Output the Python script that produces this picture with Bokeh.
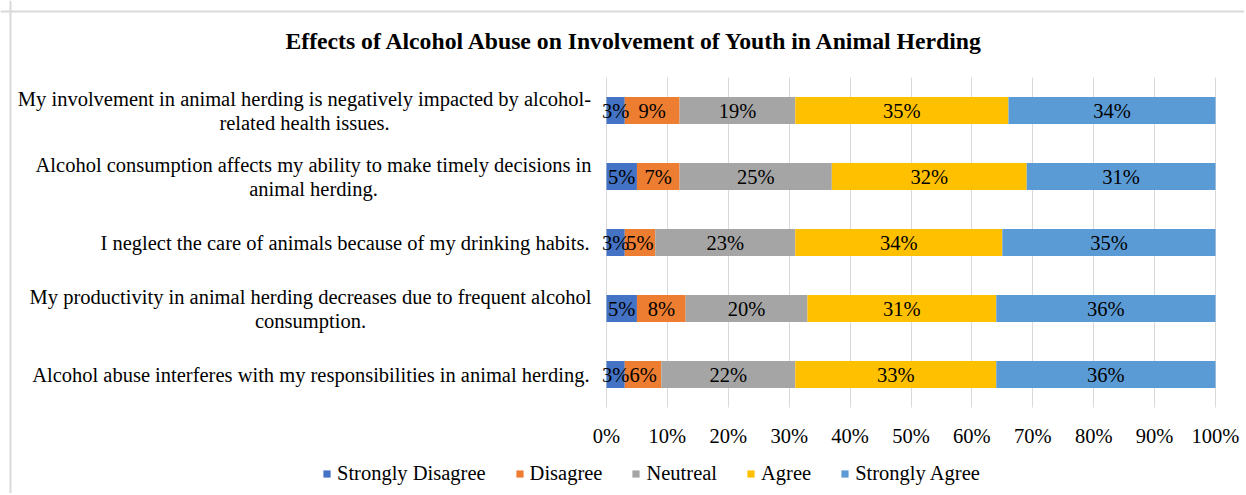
from bokeh.plotting import figure
from bokeh.models import (Range1d, FixedTicker, Label, Legend, LegendItem,
                          ColumnDataSource, Span)
from bokeh.core.properties import value
from bokeh.embed import file_html
from bokeh.resources import INLINE

# ---------------- data ----------------
title_text = "Effects of Alcohol Abuse on Involvement of Youth in Animal Herding"

categories = [
    "My involvement in animal herding is negatively impacted by alcohol-related health issues.",
    "Alcohol consumption affects my ability to make timely decisions in animal herding.",
    "I neglect the care of animals because of my drinking habits.",
    "My productivity in animal herding decreases due to frequent alcohol consumption.",
    "Alcohol abuse interferes with my responsibilities in animal herding.",
]
# how each category label is wrapped on the chart
category_lines = [
    ["My involvement in animal herding is negatively impacted by alcohol-", "related health issues."],
    ["Alcohol consumption affects my ability to make timely decisions in", "animal herding."],
    ["I neglect the care of animals because of my drinking habits."],
    ["My productivity in animal herding decreases due to frequent alcohol", "consumption."],
    ["Alcohol abuse interferes with my responsibilities in animal herding."],
]

series_names = ["Strongly Disagree", "Disagree", "Neutreal", "Agree", "Strongly Agree"]
strongly_disagree = [3, 5, 3, 5, 3]
disagree = [9, 7, 5, 8, 6]
neutral = [19, 25, 23, 20, 22]
agree = [35, 32, 34, 31, 33]
strongly_agree = [34, 31, 35, 36, 36]

tick_values = [0, 10, 20, 30, 40, 50, 60, 70, 80, 90, 100]
tick_labels = ["0%", "10%", "20%", "30%", "40%", "50%", "60%", "70%", "80%", "90%", "100%"]

colors = ["#4472C4", "#ED7D31", "#A5A5A5", "#FFC000", "#5B9BD5"]
FONT = "Liberation Serif"
FS = "20.5px"

# ---------------- layout (page pixels) ----------------
W, H = 1244, 493
PAGE0 = 0                       # canvas origin on the page
X0_PX, X100_PX = 606, 1215      # where 0% and 100% fall
TOP_PX, BOT_PX = 77, 407        # top / bottom of the bar area
n = len(categories)
ppx = (X100_PX - X0_PX) / 100.0
ppy = (BOT_PX - TOP_PX) / float(n)


def xdat(px):
    return (px - X0_PX) / ppx


def ydat(py):
    return (n - 0.5) - (py - TOP_PX) / ppy


x_lo, x_hi = xdat(PAGE0), xdat(PAGE0 + W)
y_lo, y_hi = ydat(PAGE0 + H), ydat(PAGE0)

# ---------------- build ----------------
ypos = [n - 1 - i for i in range(n)]  # first category at top
series_values = [strongly_disagree, disagree, neutral, agree, strongly_agree]
keys = ["s%d" % i for i in range(len(series_names))]

data = {"y": ypos}
for k, vals in zip(keys, series_values):
    data[k] = vals
source = ColumnDataSource(data)

p = figure(width=W, height=H, output_backend="svg", toolbar_location=None,
           x_range=Range1d(x_lo, x_hi), y_range=Range1d(y_lo, y_hi),
           min_border_left=0, min_border_right=0, min_border_top=0,
           min_border_bottom=0, tools="")
p.outline_line_color = None
p.background_fill_color = "white"
p.border_fill_color = "white"
p.xaxis.visible = False
p.yaxis.visible = False

# chart-area border (left and top edges visible in the picture)
p.add_layout(Span(location=xdat(10), dimension="height", line_color="#D9D9D9", line_width=2))
p.add_layout(Span(location=ydat(11), dimension="width", line_color="#D9D9D9", line_width=2))

# grid lines (only across the bar area)
p.ygrid.grid_line_color = None
p.xgrid.ticker = FixedTicker(ticks=tick_values)
p.xgrid.grid_line_color = "#D9D9D9"
try:
    p.xgrid.cross_bounds = (-0.5, n - 0.5)
except Exception:
    p.xgrid.grid_line_color = None
    p.segment(x0=tick_values, y0=[-0.5] * len(tick_values), x1=tick_values,
              y1=[n - 0.5] * len(tick_values), line_color="#D9D9D9", line_width=1)

renderers = p.hbar_stack(keys, y="y", height=0.41, color=colors, source=source,
                         line_color=None)

# data labels
lx, ly, lt = [], [], []
for row in range(n):
    left = 0
    for vals in series_values:
        v = vals[row]
        lx.append(left + v / 2.0)
        ly.append(ypos[row])
        lt.append("%d%%" % v)
        left += v
p.text(x=lx, y=ly, text=lt, text_font=value(FONT), text_font_size=FS,
       text_align="center", text_baseline="middle", text_color="#000000")

# x tick labels
p.text(x=tick_values, y=[ydat(435)] * len(tick_values), text=tick_labels,
       text_font=value(FONT), text_font_size=FS, text_align="center",
       text_baseline="middle", text_color="#000000")

# category labels
line_center_px = {0: 304, 1: 313, 3: 310}
for row, lines in enumerate(category_lines):
    if len(lines) == 1:
        p.add_layout(Label(x=xdat(589), y=ypos[row],
                           text=lines[0], text_font=FONT, text_font_size=FS,
                           text_align="right", text_baseline="middle",
                           text_color="#000000"))
    else:
        for j, t in enumerate(lines):
            dy = (12 if j == 0 else -12) / ppy
            p.add_layout(Label(x=xdat(line_center_px[row]), y=ypos[row] + dy,
                               text=t, text_font=FONT, text_font_size=FS,
                               text_align="center", text_baseline="middle",
                               text_color="#000000"))

# title
p.add_layout(Label(x=xdat(635), y=ydat(40),
                   text=title_text, text_font=FONT, text_font_size="23.7px",
                   text_font_style="bold", text_align="center", text_baseline="middle",
                   text_color="#000000"))

# legend
items = [LegendItem(label=name, renderers=[r]) for name, r in zip(series_names, renderers)]
legend = Legend(items=items, orientation="horizontal",
                location=(322 - PAGE0, (PAGE0 + H) - 485),
                padding=0, margin=0, spacing=29, label_standoff=6,
                glyph_width=9, glyph_height=9, label_height=20,
                label_text_font=FONT, label_text_font_size=FS,
                label_text_color="#000000",
                border_line_color=None, background_fill_alpha=0)
p.add_layout(legend, "center")

open("out.html", "w").write(file_html(p, INLINE))
